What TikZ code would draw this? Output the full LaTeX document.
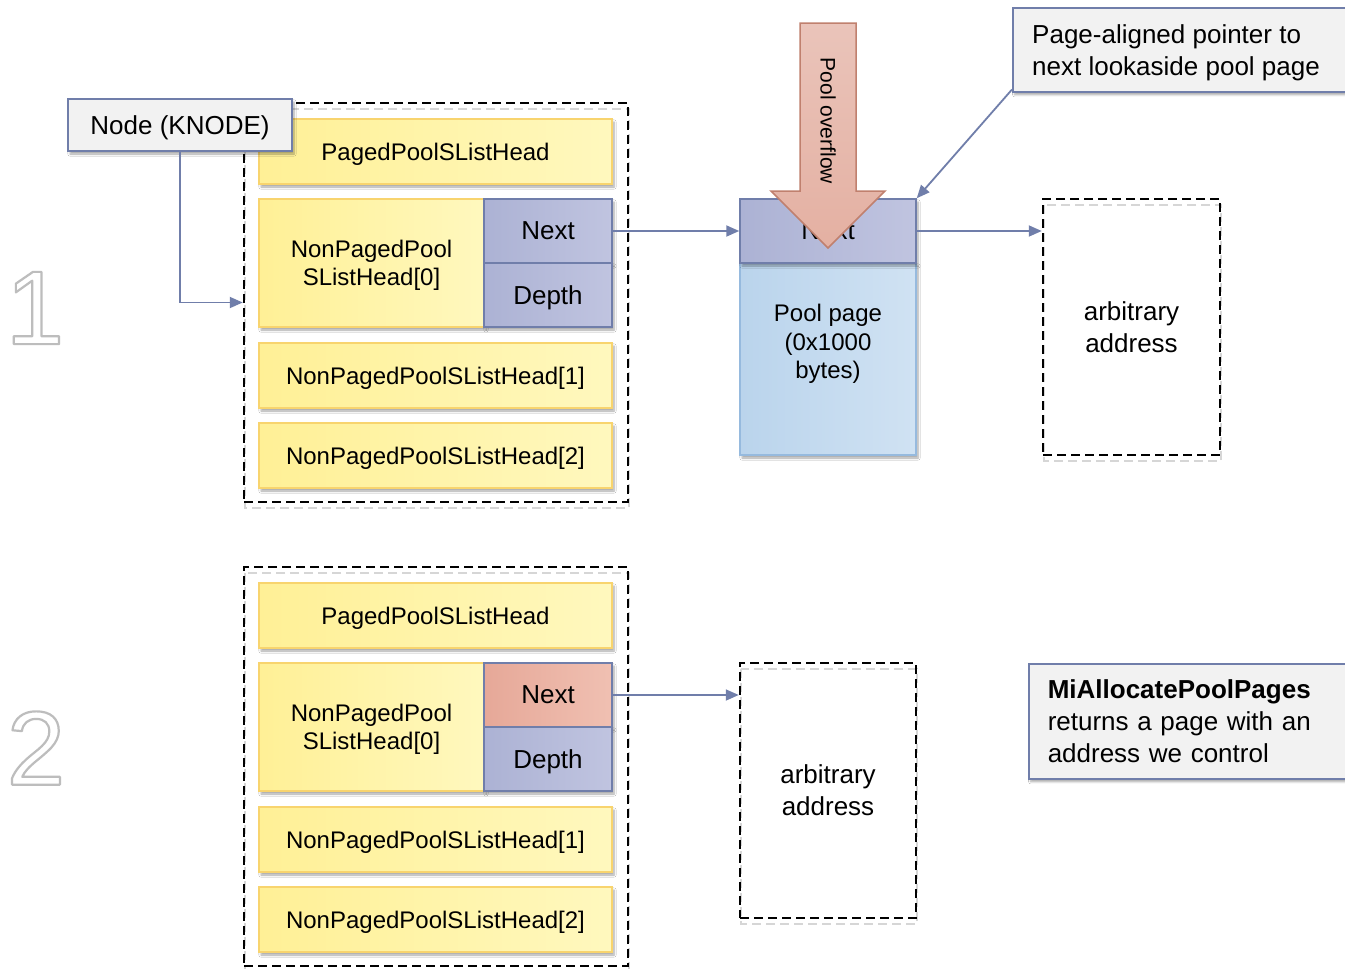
\documentclass[tikz,border=0pt]{standalone}
\usepackage{fontspec}
\setmainfont{Liberation Sans}
\usetikzlibrary{shadows.blur,arrows.meta,calc,backgrounds}
\definecolor{yelA}{RGB}{255,240,150}
\definecolor{yelB}{RGB}{255,248,190}
\definecolor{yelD}{RGB}{248,212,110}
\definecolor{lavA}{RGB}{172,178,212}
\definecolor{lavB}{RGB}{192,196,224}
\definecolor{lavD}{RGB}{112,126,170}
\definecolor{redA}{RGB}{230,168,152}
\definecolor{redB}{RGB}{240,192,178}
\definecolor{bluA}{RGB}{186,212,236}
\definecolor{bluB}{RGB}{208,226,243}
\definecolor{bluD}{RGB}{150,186,222}
\definecolor{boxF}{RGB}{242,242,242}
\definecolor{ovA}{RGB}{234,196,186}
\definecolor{ovB}{RGB}{228,176,162}
\definecolor{ovD}{RGB}{192,128,110}
\newcommand\outlinedigit[1]{\special{pdf:literal direct 2 Tr 2.2 w 1 j 0.74 0.74 0.74 RG}#1\special{pdf:literal direct 0 Tr}}
\tikzset{
 shad/.style={blur shadow={shadow xshift=2pt,shadow yshift=-3pt,shadow blur steps=6,shadow opacity=35}},
 ybox/.style={draw=yelD, line width=1.5pt, left color=yelA, right color=yelB, shad, inner sep=0pt, align=center, text depth=0pt, font=\fontsize{24}{28}\selectfont},
 lbox/.style={draw=lavD, line width=1.5pt, left color=lavA, right color=lavB, shad, inner sep=0pt, text depth=0pt, font=\fontsize{26}{30}\selectfont},
 rbox/.style={draw=lavD, line width=1.5pt, left color=redA, right color=redB, shad, inner sep=0pt, text depth=0pt, font=\fontsize{26}{30}\selectfont},
 cbox/.style={draw=lavD, line width=1.5pt, fill=boxF, shad, font=\fontsize{26}{32}\selectfont},
 dbox/.style={draw=black, line width=2.5pt, dash pattern=on 9pt off 5pt},
 dshad/.style={draw=black!16, line width=2.5pt, dash pattern=on 9pt off 5pt},
 conn/.style={draw=lavD, line width=1.8pt, -{Triangle[length=13pt,width=11pt]}},
 digit/.style={font=\fontsize{105}{105}\selectfont, inner sep=0pt, text=white},
 plain/.style={inner sep=0pt},
}
\begin{document}
\begin{tikzpicture}[x=1pt,y=-1pt]
\useasboundingbox[fill=white] (0,0) rectangle (1345,969);

% big digits
\fill[black!8] (16,272) rectangle (16,272);
\node[digit] (dig1) at (35,308) {\outlinedigit{1}};
\node[digit] (dig2) at (36,748) {\outlinedigit{2}};

% ---------- group 1 ----------
\draw[dshad] (245,109) rectangle (629,508);
\node[dbox, minimum width=384pt, minimum height=399pt] (d1) at (436,302.5) {};
\node[ybox, minimum width=353pt, minimum height=65pt] (pp1) at (435.5,151.5) {PagedPoolSListHead};
\node[ybox, minimum width=225pt, minimum height=128pt] (np01) at (371.5,263) {NonPagedPool\\SListHead[0]};
\node[lbox, minimum width=128pt, minimum height=64pt] (next1) at (548,231) {Next};
\node[lbox, minimum width=128pt, minimum height=64pt] (depth1) at (548,295) {Depth};
\node[ybox, minimum width=353pt, minimum height=65pt] (np11) at (435.5,375.5) {NonPagedPoolSListHead[1]};
\node[ybox, minimum width=353pt, minimum height=65pt] (np21) at (435.5,455.5) {NonPagedPoolSListHead[2]};

\node[cbox, minimum width=224pt, minimum height=52pt, text depth=0pt] (knode) at (180,125) {Node (KNODE)};
\draw[conn] (knode.south) |- (d1.west);

% pool page
\node[draw=bluD, line width=1.5pt, left color=bluA, right color=bluB, shad, minimum width=176pt, minimum height=192pt] (pbody) at (828,359) {};
\node[lbox, minimum width=176pt, minimum height=64pt] (pnext) at (828,231) {Next};
\node[plain, align=center, font=\fontsize{24}{28.5}\selectfont] (ptxt) at (828,344) {Pool page\\(0x1000\\bytes)};

% pool overflow arrow
\draw[draw=ovD, line width=1.5pt, top color=ovA, bottom color=ovB]
  (800,23) -- (856,23) -- (856,191) -- (885,191) -- (828,248) -- (771,191) -- (800,191) -- cycle;
\node[plain, rotate=-90, font=\fontsize{21}{24}\selectfont] (ovtxt) at (828,121) {Pool overflow};

% arbitrary address 1
\draw[dshad] (1044,205) rectangle (1221,461);
\node[dbox, minimum width=177pt, minimum height=256pt, align=center, font=\fontsize{26}{32}\selectfont] (arb1) at (1131.5,327) {arbitrary\\address};

\draw[conn] (next1.east) -- (pnext.west);
\draw[conn] (pnext.east) -- (pnext.east -| arb1.west);

% page aligned pointer callout
\node[cbox, anchor=north west, minimum height=84pt, minimum width=338pt] (ptr) at (1012,7) {};
\node[plain, anchor=west, align=left, font=\fontsize{26}{32}\selectfont] (ptrtxt) at (1032,53) {Page-aligned pointer to\\next lookaside pool page};
\coordinate (ptrfoot) at ($(ptr.south west)+(0,-3)$);
\draw[conn] (ptrfoot) -- (pnext.north east);

% ---------- group 2 ----------
\draw[dshad] (245,573) rectangle (629,972);
\node[dbox, minimum width=384pt, minimum height=399pt] (d2) at (436,766.5) {};
\node[ybox, minimum width=353pt, minimum height=65pt] (pp2) at (435.5,615.5) {PagedPoolSListHead};
\node[ybox, minimum width=225pt, minimum height=128pt] (np02) at (371.5,727) {NonPagedPool\\SListHead[0]};
\node[rbox, minimum width=128pt, minimum height=64pt] (next2) at (548,695) {Next};
\node[lbox, minimum width=128pt, minimum height=64pt] (depth2) at (548,759) {Depth};
\node[ybox, minimum width=353pt, minimum height=65pt] (np12) at (435.5,839.5) {NonPagedPoolSListHead[1]};
\node[ybox, minimum width=353pt, minimum height=65pt] (np22) at (435.5,919.5) {NonPagedPoolSListHead[2]};

\draw[dshad] (741,669) rectangle (917,924);
\node[dbox, minimum width=176pt, minimum height=255pt, align=center, font=\fontsize{26}{32}\selectfont] (arb2) at (828,790.5) {arbitrary\\address};
\draw[conn] (next2.east) -- (next2.east -| arb2.west);

\node[cbox, anchor=north west, minimum height=115pt, text width=284pt, inner xsep=19pt, align=left] (mia) at (1028,663) {\textbf{MiAllocatePoolPages}\\returns a page with an\\address we control};
\end{tikzpicture}
\end{document}
